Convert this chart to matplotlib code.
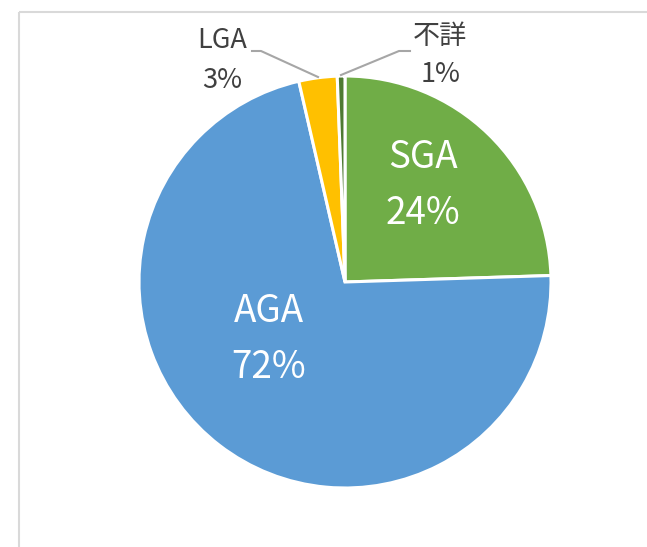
import matplotlib
matplotlib.use("Agg")
import matplotlib.pyplot as plt

plt.rcParams['font.family'] = ['Noto Sans CJK JP', 'DejaVu Sans']

# data (clockwise from 12 o'clock)
categories = ["SGA", "AGA", "LGA", "不詳"]
shares = [24.5, 71.9, 3.0, 0.6]
pct_labels = ["24%", "72%", "3%", "1%"]
colors = ["#70AD47", "#5B9BD5", "#FFC000", "#4E7A32"]

W, H = 647, 547
fig = plt.figure(figsize=(W / 100, H / 100), dpi=100)
ax = fig.add_axes([0, 0, 1, 1])

# pie in pixel-like coordinates (y measured from bottom)
cx, cy, r = 345, H - 282, 206
ax.pie(shares, colors=colors, startangle=90, counterclock=False,
       center=(cx, cy), radius=r,
       wedgeprops=dict(edgecolor="white", linewidth=2.2))

ax.set_xlim(0, W)
ax.set_ylim(0, H)
ax.set_aspect("equal")
ax.axis("off")

# chart area border (light gray)
ax.plot([19, W], [H - 12, H - 12], color="#d9d9d9", lw=1.5, solid_capstyle="butt")
ax.plot([19, 19], [H - 12, 0], color="#d9d9d9", lw=1.5, solid_capstyle="butt")

# inside labels
inside = {0: (423, 158, 214), 1: (269, 312, 368)}
for i, (x, y1, y2) in inside.items():
    ax.text(x, H - y1, categories[i], color="white", fontsize=26.5, ha="center", va="center")
    ax.text(x, H - y2, pct_labels[i], color="white", fontsize=26.5, ha="center", va="center")

# outside labels with leader lines
gray = "#404040"
ax.text(222, H - 41, categories[2], color=gray, fontsize=19.5, ha="center", va="center")
ax.text(222, H - 80, pct_labels[2], color=gray, fontsize=19.5, ha="center", va="center")
ax.plot([252, 261, 318], [H - 51, H - 51, H - 77], color="#a6a6a6", lw=1.5)

ax.text(440, H - 36, categories[3], color=gray, fontsize=19.5, ha="center", va="center")
ax.text(441, H - 75, pct_labels[3], color=gray, fontsize=19.5, ha="center", va="center")
ax.plot([341, 399, 410], [H - 75, H - 51, H - 51], color="#a6a6a6", lw=1.5)

fig.savefig("out.png", dpi=100)
